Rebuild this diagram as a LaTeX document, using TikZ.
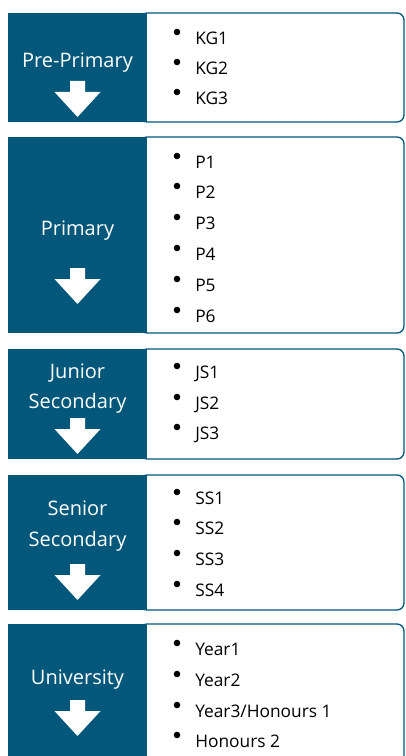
\documentclass[tikz,border=0pt]{standalone}
\usepackage{fontspec}
\setmainfont{Open Sans}
\newlength\px
\setlength\px{0.75pt}
\definecolor{stageblue}{HTML}{02577A}

\begin{document}
\begin{tikzpicture}[x=\px, y=-\px]
	\tikzset{
		stagebox/.style = {rectangle, fill=stageblue, minimum width=139\px, inner sep=0pt},
		listbox/.style = {rectangle, draw=stageblue, line width=1.3\px, fill=white, rounded corners=7\px, minimum width=264\px, inner sep=0pt},
		stagename/.style = {text=white, font=\fontsize{15}{18}\selectfont, anchor=base, inner sep=0pt},
		stageitem/.style = {font=\fontsize{13}{16}\selectfont, anchor=base west, inner sep=0pt},
		downarrow/.pic = {\fill[white] (-7.5,0) -- (7.5,0) -- (7.5,11) -- (23,11) -- (0,36) -- (-23,11) -- (-7.5,11) -- cycle;}
	}
	\clip (0,0) rectangle (406,756);
	% pre-primary
	\node[listbox, minimum height=109\px] (preL) at (272,67.5) {};
	\node[stagebox, minimum height=109\px] (pre) at (77.5,67.5) {};
	\node[stagename] (preT) at (77.5,68) {Pre-Primary};
	\pic at (77.5,81) {downarrow};
	\foreach \txt/\yy [count=\i] in {KG1/38, KG2/68, KG3/98} {
		\fill (177,\yy-6) circle (3.3);
		\node[stageitem] (kg\i) at (195,\yy+6.5) {\txt};
	}
	% primary
	\node[listbox, minimum height=196\px] (priL) at (272,235) {};
	\node[stagebox, minimum height=196\px] (pri) at (77.5,235) {};
	\node[stagename] (priT) at (77.5,235) {Primary};
	\pic at (77.5,268) {downarrow};
	\foreach \txt/\yy [count=\i] in {P1/162, P2/192, P3/223, P4/254, P5/285, P6/316} {
		\fill (177,\yy-6) circle (3.3);
		\node[stageitem] (p\i) at (195,\yy+6.5) {\txt};
	}
	% junior secondary
	\node[listbox, minimum height=110\px] (jsL) at (272,404) {};
	\node[stagebox, minimum height=110\px] (js) at (77.5,404) {};
	\node[stagename] (jsT1) at (77.5,378) {Junior};
	\node[stagename] (jsT2) at (77.5,408) {Secondary};
	\pic at (77.5,418) {downarrow};
	\foreach \txt/\yy [count=\i] in {JS1/372, JS2/403, JS3/433} {
		\fill (177,\yy-6) circle (3.3);
		\node[stageitem] (js\i) at (195,\yy+6.5) {\txt};
	}
	% senior secondary
	\node[listbox, minimum height=135\px] (ssL) at (272,542.5) {};
	\node[stagebox, minimum height=135\px] (ss) at (77.5,542.5) {};
	\node[stagename] (ssT1) at (77.5,515) {Senior};
	\node[stagename] (ssT2) at (77.5,546) {Secondary};
	\pic at (77.5,564) {downarrow};
	\foreach \txt/\yy [count=\i] in {SS1/498, SS2/528, SS3/559, SS4/590} {
		\fill (177,\yy-6) circle (3.3);
		\node[stageitem] (ss\i) at (195,\yy+6.5) {\txt};
	}
	% university
	\node[listbox, minimum height=150\px] (uniL) at (272,699) {};
	\node[stagebox, minimum height=150\px] (uni) at (77.5,699) {};
	\node[stagename] (uniT) at (77.5,684) {University};
	\pic at (77.5,700) {downarrow};
	\foreach \txt/\yy [count=\i] in {Year1/649, Year2/680, {Year3/Honours 1}/711, Honours 2/741} {
		\fill (177,\yy-6) circle (3.3);
		\node[stageitem] (yr\i) at (195,\yy+6.5) {\txt};
	}
\end{tikzpicture}
\end{document}
